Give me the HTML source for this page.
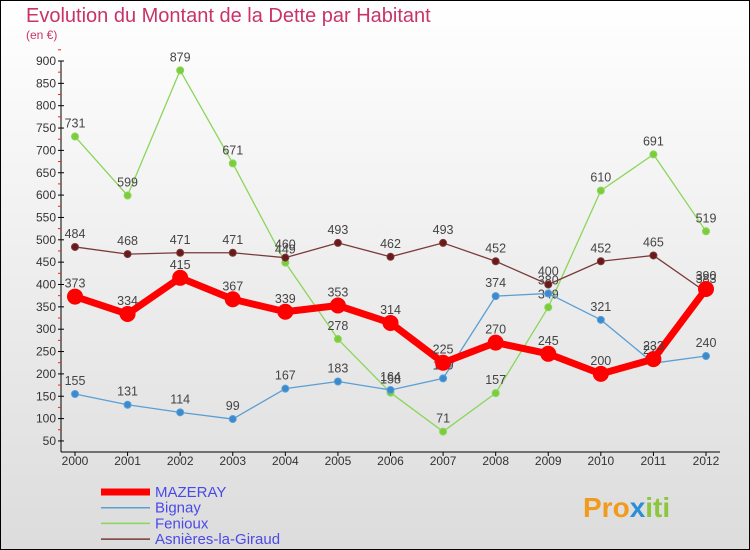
<!DOCTYPE html>
<html><head><meta charset="utf-8"><style>
body{margin:0}
svg{display:block;font-family:"Liberation Sans","DejaVu Sans",sans-serif}
</style></head><body>
<svg width="750" height="550">
<defs><linearGradient id="bg" x1="0" y1="0" x2="0" y2="1"><stop offset="0" stop-color="#ffffff"/><stop offset="1" stop-color="#dcdcdc"/></linearGradient></defs>
<rect x="0.5" y="0.5" width="749" height="549" fill="url(#bg)" stroke="#000"/>
<text x="26" y="22" font-size="20" fill="#c8336a">Evolution du Montant de la Dette par Habitant</text>
<text x="26" y="39" font-size="12" fill="#c8336a">(en €)</text>
<g id="axes"></g>
<g id="series"></g>
<g id="legend"></g>
<text x="583" y="517" font-size="28" font-weight="bold" fill="#f29a1c">Pro<tspan fill="#2c8fd6">x</tspan><tspan fill="#8cc63f">iti</tspan></text>
</svg>
<script>
const years=[2000,2001,2002,2003,2004,2005,2006,2007,2008,2009,2010,2011,2012];
const yTicks=[50,100,150,200,250,300,350,400,450,500,550,600,650,700,750,800,850,900];
const mazeray=[373,334,415,367,339,353,314,225,270,245,200,233,390];
const bignay=[155,131,114,99,167,183,164,190,374,380,321,224,240];
const fenioux=[731,599,879,671,449,278,158,71,157,349,610,691,519];
const asnieres=[484,468,471,471,460,493,462,493,452,400,452,465,383];
const NS="http://www.w3.org/2000/svg";
const X=i=>75+i*(706-75)/12;
const Y=v=>61+(900-v)/50*22.35;
function mk(t,a,p){const e=document.createElementNS(NS,t);for(const k in a)e.setAttribute(k,a[k]);p.appendChild(e);return e;}
const ax=document.getElementById('axes');
const yl=mk('line',{x1:61,y1:61,x2:61,y2:452,stroke:'#000'},ax);


const xl=mk('line',{x1:61,y1:452,x2:720,y2:452,stroke:'#000'},ax);


yTicks.forEach(v=>{
 mk('line',{x1:58,y1:Y(v),x2:64,y2:Y(v),stroke:'#000'},ax);
 mk('line',{x1:58,y1:Y(v)-11.2,x2:61,y2:Y(v)-11.2,stroke:'#e22'},ax);
 const t=mk('text',{x:56,y:Y(v)+4,'font-size':12,'text-anchor':'end',fill:'#333'},ax);t.textContent=v;
 
 
});
years.forEach((y,i)=>{
 mk('line',{x1:X(i),y1:452,x2:X(i),y2:456,stroke:'#000'},ax);
 const t=mk('text',{x:X(i),y:465,'font-size':12,'text-anchor':'middle',fill:'#333'},ax);t.textContent=y;
 
 
});
const sg=document.getElementById('series');
function series(vals,color,dot,w,r,name){
 const g=mk('g',{},sg);
 
 
 mk('polyline',{points:vals.map((v,i)=>X(i)+','+Y(v)).join(' '),fill:'none',stroke:color,'stroke-width':w,'stroke-linejoin':'round'},g);
 vals.forEach((v,i)=>{
  const c=mk('circle',{cx:X(i),cy:Y(v),r:r,fill:dot,stroke:color,'stroke-width':1},g);
  
  
  const t=mk('text',{x:X(i),y:Y(v)-9,'font-size':12.5,'text-anchor':'middle',fill:'#444'},g);t.textContent=v;
  
  
 });
}
series(fenioux,'#8ad65a','#7ccd3a',1.3,3.5,'fenioux');
series(bignay,'#5a9fd4','#3a8ad0',1.3,3.5,'bignay');
series(asnieres,'#7a3a3a','#6a1a1a',1.3,3.5,'asnieres');
series(mazeray,'#ff0000','#ff0000',7,7.5,'mazeray');
const lg=document.getElementById('legend');
const items=[['MAZERAY','#ff0000',7],['Bignay','#5a9fd4',1.5],['Fenioux','#8ad65a',1.5],['Asnières-la-Giraud','#7a3a3a',1.5]];
items.forEach((it,k)=>{
 const y=492+k*15.7;
 const g=mk('g',{},lg);
 
 
 mk('line',{x1:101,y1:y,x2:150,y2:y,stroke:it[1],'stroke-width':it[2]},g);
 const t=mk('text',{x:155,y:y+5,'font-size':15,fill:'#4a4ae8'},g);t.textContent=it[0];
});
</script>
</body></html>
